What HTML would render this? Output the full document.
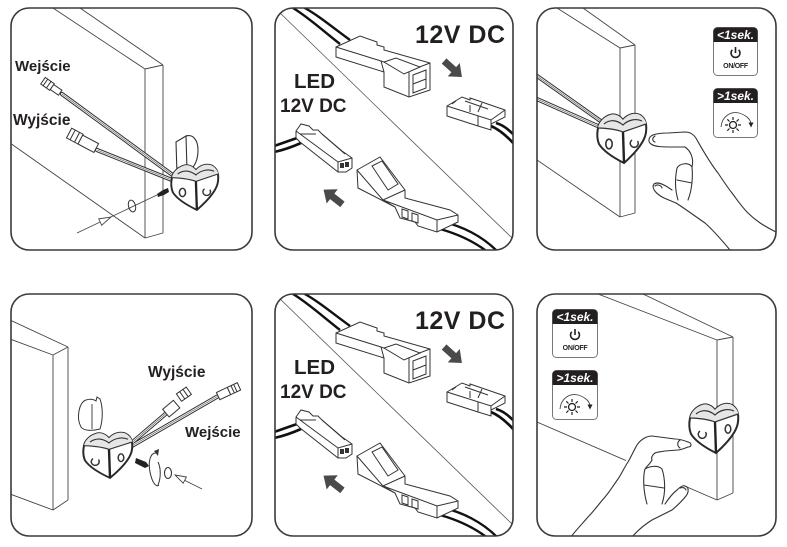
<!DOCTYPE html>
<html><head><meta charset="utf-8">
<style>
html,body{margin:0;padding:0;background:#fff;}
svg{display:block;}
text{font-family:"Liberation Sans",Arial,sans-serif;font-weight:bold;fill:#231f20;}
</style></head><body>
<svg width="787" height="547" viewBox="0 0 787 547" xmlns="http://www.w3.org/2000/svg">
<defs>
<clipPath id="c1"><rect x="11" y="8" width="241" height="242" rx="18"/></clipPath>
<clipPath id="c2"><rect x="275" y="8" width="238" height="242" rx="18"/></clipPath>
<clipPath id="c3"><rect x="537" y="8" width="239" height="242" rx="18"/></clipPath>
<clipPath id="c4"><rect x="11" y="294" width="241" height="242" rx="18"/></clipPath>
<clipPath id="c5"><rect x="275" y="294" width="238" height="242" rx="18"/></clipPath>
<clipPath id="c6"><rect x="537" y="294" width="239" height="242" rx="18"/></clipPath>
</defs>

<!-- ================= PANEL 1 ================= -->
<g clip-path="url(#c1)">
  <path d="M53,8 L145,69 M80,8 L163,65 M145,69 L163,65 M145,69 L145,238 M163,65 L163,233 M145,238 L163,233 M10,143 L145,238" fill="none" stroke="#444" stroke-width="0.9"/>
  <g fill="none" stroke-linecap="round">
    <path d="M62,94 L174,176 M97,150 L172,180" stroke="#333" stroke-width="4.2"/>
    <path d="M62,94 L174,176 M97,150 L172,180" stroke="#fff" stroke-width="2.2"/>
    <path d="M62,94 L174,176 M97,150 L172,180" stroke="#555" stroke-width="0.6"/>
  </g>
  <g transform="translate(52,87) rotate(35)" fill="#fff" stroke="#333" stroke-width="1">
    <rect x="-11" y="-4" width="11" height="8"/>
    <path d="M-8,-4 L-8,4 M-4,-4 L-4,4"/>
    <rect x="0" y="-3" width="10" height="6"/>
  </g>
  <g transform="translate(83,141) rotate(28)" fill="#fff" stroke="#333" stroke-width="1">
    <rect x="-16" y="-6" width="13" height="11"/>
    <path d="M-12,-6 L-12,5 M-7,-6 L-7,5"/>
    <rect x="-3" y="-5" width="18" height="10"/>
  </g>
  <text x="15" y="71" font-size="15">Wejście</text>
  <text x="13" y="125" font-size="15.5">Wyjście</text>
  <path d="M176,142 L186,136 L187,170 L177,174 Z" fill="#fff" stroke="#333" stroke-width="1.1"/>
  <path d="M186,136 C193,134 198,140 198,150 C198,160 195,166 190,170" fill="none" stroke="#333" stroke-width="1.1"/>
  <g transform="translate(170,163) scale(0.96,0.92)">
    <path d="M2,16 C3,10 8,5 14,3 C19,1 24,4 27,8 C31,3 38,0 44,3 C49,6 51,12 50,20 C49,30 38,42 28,51 C20,47 8,40 3,32 C1,27 1,21 2,16 Z" fill="#fff" stroke="#2a2a2a" stroke-width="2"/>
    <path d="M2,16 C3,10 8,5 14,3 C19,1 24,4 27,8 C31,3 38,0 44,3 C49,6 51,12 50,12 L27,20 Z" fill="#e6e6e6" stroke="none"/>
    <path d="M2,16 C8,16 20,17 27,20 L50,12 M8,12 C14,7 21,8 27,13 C32,8 40,6 46,9" fill="none" stroke="#333" stroke-width="1.2"/>
    <path d="M27,20 L28,51" stroke="#222" stroke-width="2.4"/>
    <ellipse cx="13" cy="32" rx="3.2" ry="4.5" fill="none" stroke="#333" stroke-width="1.6"/>
    <path d="M36,28 A4,4 0 1 0 41.5,29" fill="none" stroke="#333" stroke-width="1.5"/>
  </g>
  <path d="M157,194 L163,190 L168,188 L169,192 L164,195 L158,197 Z" fill="#222"/>
  <ellipse cx="132" cy="206" rx="3.5" ry="6" fill="none" stroke="#333" stroke-width="1" transform="rotate(-15 132 206)"/>
  <path d="M77,233 L157,195" stroke="#444" stroke-width="0.8" fill="none"/>
  <polygon points="111,217 101.7,225.3 98.7,218.9" fill="#fff" stroke="#444" stroke-width="0.9"/>
</g>

<!-- ================= PANEL 2 ================= -->
<g clip-path="url(#c2)">
  <path d="M277,10 L512,238" stroke="#555" stroke-width="0.8" fill="none"/>
  <path d="M293,8 C308,17 322,30 340,44 M303,7 C318,15 332,27 350,40" stroke="#111" stroke-width="2.4" fill="none"/>
  <g fill="#fff" stroke="#333" stroke-width="1">
    <path d="M336,47 L360,36 L377,42 L377,45 L384,47 L384,50 L430,63 L430,90 L409,97 L384,87 L384,72 L336,57 Z"/>
    <path d="M336,47 L381,61 L409,71 L430,63 M409,71 L409,97 M381,61 L384,72" fill="none"/>
    <path d="M384,62 L396,58 L420,67 L404,74 Z"/>
    <path d="M413,75 L426,70 L426,88 L413,93 Z M413,84 L426,79" />
  </g>
  <text x="415" y="43" font-size="25" letter-spacing="0.5">12V DC</text>
  <polygon points="-12,-3.5 1,-3.5 1,-9 12,0 1,9 1,3.5 -12,3.5" fill="#4a4a4a" transform="translate(453,69) rotate(42)"/>
  <path d="M491,126 C498,129 505,134 514,144 M496,123 C503,125 508,129 515,136" stroke="#111" stroke-width="2.6" fill="none"/>
  <g fill="#fff" stroke="#333" stroke-width="1">
    <path d="M447,106 L462,97 L470,100 L470,98 L476,100 L505,110 L505,117 L491,124 L491,130 L478,126 L447,116 Z"/>
    <path d="M447,106 L491,120 L505,110 M491,120 L491,130 M478,116 L478,126 M465,101 L488,109 M482,103 L478,112 M452,104 L456,101 M470,105 L470,112" fill="none"/>
  </g>
  <text x="294" y="88" font-size="20.5">LED</text>
  <text x="280" y="112" font-size="19">12V DC</text>
  <path d="M274,146 C283,143 291,140 300,137 M274,152 C284,150 292,147 301,143" stroke="#111" stroke-width="2.6" fill="none"/>
  <g fill="#fff" stroke="#333" stroke-width="1">
    <path d="M296,131 L301,124 L309,126 L313,130 L318,130 L322,134 L342,151 L352,158 L352,168 L346,172 L338,172 L300,142 L296,138 Z"/>
    <path d="M296,131 L338,162 L352,158 M338,162 L338,172 M300,134 L316,134 M322,134 L345,154" fill="none"/>
  </g>
  <rect x="340" y="163" width="4" height="5" fill="#333"/><rect x="345" y="162" width="4" height="5" fill="#333"/>
  <polygon points="-12,-3.5 1,-3.5 1,-9 12,0 1,9 1,3.5 -12,3.5" fill="#4a4a4a" transform="translate(333,197) rotate(218)"/>
  <path d="M443,222 C462,226 482,236 497,251 M440,229 C458,234 475,242 489,253" stroke="#111" stroke-width="2.4" fill="none"/>
  <g fill="#fff" stroke="#333" stroke-width="1">
    <path d="M357,170 L380,157 L405,190 L405,198 L450,210 L458,215 L458,222 L437,232 L418,226 L415,222 L400,218 L395,207 L358,188 Z"/>
    <path d="M357,170 L383,200 L405,190 M383,200 L395,207 M383,200 L437,220 L458,215 M437,220 L437,232" fill="none"/>
    <path d="M372,166 L382,161 L398,184 L388,190 Z"/>
    <path d="M402,209 L408,211 L408,219 L402,217 Z M412,213 L418,215 L418,223 L412,221 Z"/>
  </g>
</g>

<!-- ================= PANEL 3 ================= -->
<g clip-path="url(#c3)">
  <path d="M557,8 L620,48 M583,8 L635,45 M620,48 L635,45 M620,48 L620,217 M635,45 L635,213 M620,217 L635,213 M537,160 L620,217" fill="none" stroke="#444" stroke-width="0.9"/>
  <g fill="none" stroke-linecap="round">
    <path d="M530,71 L602,122 M530,96 L600,127" stroke="#333" stroke-width="4.2"/>
    <path d="M530,71 L602,122 M530,96 L600,127" stroke="#fff" stroke-width="2.2"/>
    <path d="M530,71 L602,122 M530,96 L600,127" stroke="#555" stroke-width="0.6"/>
  </g>
  <g transform="translate(596,112)">
    <path d="M2,16 C3,10 8,5 14,3 C19,1 24,4 27,8 C31,3 38,0 44,3 C49,6 51,12 50,20 C49,30 38,42 28,51 C20,47 8,40 3,32 C1,27 1,21 2,16 Z" fill="#fff" stroke="#2a2a2a" stroke-width="2"/>
    <path d="M2,16 C3,10 8,5 14,3 C19,1 24,4 27,8 C31,3 38,0 44,3 C49,6 51,12 50,12 L27,20 Z" fill="#e6e6e6" stroke="none"/>
    <path d="M2,16 C8,16 20,17 27,20 L50,12 M8,12 C14,7 21,8 27,13 C32,8 40,6 46,9" fill="none" stroke="#333" stroke-width="1.2"/>
    <path d="M27,20 L28,51" stroke="#222" stroke-width="2.4"/>
    <ellipse cx="13" cy="32" rx="3.2" ry="4.8" fill="none" stroke="#333" stroke-width="1.6"/>
    <path d="M36,28 A4,4 0 1 0 41.5,29" fill="none" stroke="#333" stroke-width="1.5"/>
  </g>
  <g fill="none" stroke="#333" stroke-width="1.1" stroke-linecap="round">
    <path d="M653,135 C658,133 663,133 668,133 L685,132 C690,132 694,134 697,140 C701,147 710,163 718,173 C724,182 728,188 732,193 C738,201 742,207 748,213 C755,220 762,225 778,233"/>
    <path d="M653,135 C648,137 648,142 651,144 C655,147 663,147 672,147 L685,147"/>
    <path d="M655,136 C652,138 652,141 655,142"/>
    <path d="M685,147 C691,151 694,159 692,167"/>
    <path d="M677,168 C680,163 689,162 692,167 C693,177 692,190 688,200 M677,168 C675,178 675,190 678,200 M677,180 L692,183"/>
    <path d="M676,203 L664,198 C656,194 651,188 654,184 C658,181 665,185 672,190"/>
    <path d="M655,186 C657,184 661,185 662,188"/>
    <path d="M676,203 C684,208 692,214 705,223 C713,230 720,238 730,250"/>
  </g>
  <g transform="translate(713,27)">
    <rect x="0.5" y="0.5" width="44" height="48" rx="4" fill="#fff" stroke="#777" stroke-width="1"/>
    <path d="M0.5,15 V4.5 A4,4 0 0 1 4.5,0.5 H40.5 A4,4 0 0 1 44.5,4.5 V15 Z" fill="#231f20"/>
    <text x="22.5" y="12" text-anchor="middle" font-size="12" font-style="italic" style="fill:#fff">&lt;1sek.</text>
    <path d="M19.3,22.8 A4.5,4.5 0 1 0 25.7,22.8" fill="none" stroke="#222" stroke-width="1.6"/>
    <path d="M22.5,20 L22.5,26" stroke="#222" stroke-width="1.6"/>
    <text x="22.5" y="41" text-anchor="middle" font-size="7" letter-spacing="-0.3">ON/OFF</text>
  </g>
  <g transform="translate(713,88)">
    <rect x="0.5" y="0.5" width="44" height="49" rx="4" fill="#fff" stroke="#777" stroke-width="1"/>
    <path d="M0.5,15 V4.5 A4,4 0 0 1 4.5,0.5 H40.5 A4,4 0 0 1 44.5,4.5 V15 Z" fill="#231f20"/>
    <text x="22.5" y="12" text-anchor="middle" font-size="12" font-style="italic" style="fill:#fff">&gt;1sek.</text>
    <circle cx="20" cy="37" r="3.5" fill="none" stroke="#222" stroke-width="1.3"/>
    <path d="M25,37 L28,37 M23.5,40.5 L25.7,42.7 M20,42 L20,45 M16.5,40.5 L14.3,42.7 M15,37 L12,37 M16.5,33.5 L14.3,31.3 M20,32 L20,29 M23.5,33.5 L25.7,31.3" stroke="#222" stroke-width="1.2"/>
    <path d="M8,39 C9,28 18,23 26,25 C33,27 37,31 38,35" fill="none" stroke="#444" stroke-width="0.9"/>
    <polygon points="35.5,34.5 40.5,34.5 38,39.5" fill="#222"/>
  </g>
</g>

<!-- ================= PANEL 4 ================= -->
<g clip-path="url(#c4)">
  <path d="M10,320 L68,347 M10,339 L53,355 M53,355 L68,347 M53,355 L53,510 M68,347 L68,500 M53,510 L68,500 M10,494 L53,510" fill="none" stroke="#444" stroke-width="0.9"/>
  <path d="M86,400 C79,402 76,418 81,427 C84,431 92,431 100,429 C103,420 103,407 100,399 L97,397 L96,401 C93,399 89,399 86,400 Z" fill="#fff" stroke="#333" stroke-width="1"/>
  <path d="M92,404 L92,429" stroke="#333" stroke-width="0.9"/>
  <g fill="none" stroke-linecap="round">
    <path d="M128,446 L169,411 M130,447 L220,395" stroke="#333" stroke-width="4.2"/>
    <path d="M128,446 L169,411 M130,447 L220,395" stroke="#fff" stroke-width="2.2"/>
    <path d="M128,446 L169,411 M130,447 L220,395" stroke="#555" stroke-width="0.6"/>
  </g>
  <g fill="#fff" stroke="#333" stroke-width="1">
    <g transform="translate(172,408) rotate(-40)"><rect x="-8" y="-5" width="14" height="10"/></g>
    <g transform="translate(185,394) rotate(-35)"><rect x="-7" y="-5" width="12" height="9"/><path d="M-3,-5 L-3,4 M1,-5 L1,4" fill="none"/></g>
    <g transform="translate(229,391) rotate(-25)"><rect x="-12" y="-4" width="12" height="8"/><rect x="0" y="-4" width="11" height="8"/><path d="M4,-4 L4,4 M7,-4 L7,4" fill="none"/></g>
  </g>
  <text x="148" y="377" font-size="15.5">Wyjście</text>
  <text x="185" y="437" font-size="15">Wejście</text>
  <g transform="translate(82,431) scale(1,0.92)">
    <path d="M2,16 C3,10 8,5 14,3 C19,1 24,4 27,8 C31,3 38,0 44,3 C49,6 51,12 50,20 C49,30 38,42 28,51 C20,47 8,40 3,32 C1,27 1,21 2,16 Z" fill="#fff" stroke="#2a2a2a" stroke-width="2"/>
    <path d="M2,16 C3,10 8,5 14,3 C19,1 24,4 27,8 C31,3 38,0 44,3 C49,6 51,12 50,12 L27,20 Z" fill="#e6e6e6" stroke="none"/>
    <path d="M2,16 C8,16 20,17 27,20 L50,12 M8,12 C14,7 21,8 27,13 C32,8 40,6 46,9" fill="none" stroke="#333" stroke-width="1.2"/>
    <path d="M27,20 L28,51" stroke="#222" stroke-width="2.4"/>
    <path d="M11,30 A4,4 0 1 0 16.5,31" fill="none" stroke="#333" stroke-width="1.5"/>
    <ellipse cx="39" cy="29" rx="2.8" ry="4.2" fill="none" stroke="#333" stroke-width="1.5"/>
  </g>
  <path d="M136,458 L146,462 L149,466 L145,468 L135,463 Z" fill="#222"/>
  <path d="M157,453 C150,452 148,462 150,472 C152,482 156,488 159,485 M158,462 C161,468 161,478 158,485" fill="none" stroke="#333" stroke-width="1"/>
  <polygon points="154,451 159,449 158,456" fill="#333"/>
  <ellipse cx="168" cy="473" rx="3.5" ry="5.5" fill="none" stroke="#333" stroke-width="1.1"/>
  <path d="M202,489 L182,479" stroke="#444" stroke-width="0.8" fill="none"/>
  <polygon points="175,475 186.4,477 183.2,483.2" fill="#fff" stroke="#444" stroke-width="0.9"/>
</g>

<!-- ================= PANEL 5 ================= -->
<g clip-path="url(#c5)">
<g transform="translate(0,286)">
  <path d="M277,10 L512,238" stroke="#555" stroke-width="0.8" fill="none"/>
  <path d="M293,8 C308,17 322,30 340,44 M303,7 C318,15 332,27 350,40" stroke="#111" stroke-width="2.4" fill="none"/>
  <g fill="#fff" stroke="#333" stroke-width="1">
    <path d="M336,47 L360,36 L377,42 L377,45 L384,47 L384,50 L430,63 L430,90 L409,97 L384,87 L384,72 L336,57 Z"/>
    <path d="M336,47 L381,61 L409,71 L430,63 M409,71 L409,97 M381,61 L384,72" fill="none"/>
    <path d="M384,62 L396,58 L420,67 L404,74 Z"/>
    <path d="M413,75 L426,70 L426,88 L413,93 Z M413,84 L426,79" />
  </g>
  <text x="415" y="43" font-size="25" letter-spacing="0.5">12V DC</text>
  <polygon points="-12,-3.5 1,-3.5 1,-9 12,0 1,9 1,3.5 -12,3.5" fill="#4a4a4a" transform="translate(453,69) rotate(42)"/>
  <path d="M491,126 C498,129 505,134 514,144 M496,123 C503,125 508,129 515,136" stroke="#111" stroke-width="2.6" fill="none"/>
  <g fill="#fff" stroke="#333" stroke-width="1">
    <path d="M447,106 L462,97 L470,100 L470,98 L476,100 L505,110 L505,117 L491,124 L491,130 L478,126 L447,116 Z"/>
    <path d="M447,106 L491,120 L505,110 M491,120 L491,130 M478,116 L478,126 M465,101 L488,109 M482,103 L478,112 M452,104 L456,101 M470,105 L470,112" fill="none"/>
  </g>
  <text x="294" y="88" font-size="20.5">LED</text>
  <text x="280" y="112" font-size="19">12V DC</text>
  <path d="M274,146 C283,143 291,140 300,137 M274,152 C284,150 292,147 301,143" stroke="#111" stroke-width="2.6" fill="none"/>
  <g fill="#fff" stroke="#333" stroke-width="1">
    <path d="M296,131 L301,124 L309,126 L313,130 L318,130 L322,134 L342,151 L352,158 L352,168 L346,172 L338,172 L300,142 L296,138 Z"/>
    <path d="M296,131 L338,162 L352,158 M338,162 L338,172 M300,134 L316,134 M322,134 L345,154" fill="none"/>
  </g>
  <rect x="340" y="163" width="4" height="5" fill="#333"/><rect x="345" y="162" width="4" height="5" fill="#333"/>
  <polygon points="-12,-3.5 1,-3.5 1,-9 12,0 1,9 1,3.5 -12,3.5" fill="#4a4a4a" transform="translate(333,197) rotate(218)"/>
  <path d="M443,222 C462,226 482,236 497,251 M440,229 C458,234 475,242 489,253" stroke="#111" stroke-width="2.4" fill="none"/>
  <g fill="#fff" stroke="#333" stroke-width="1">
    <path d="M357,170 L380,157 L405,190 L405,198 L450,210 L458,215 L458,222 L437,232 L418,226 L415,222 L400,218 L395,207 L358,188 Z"/>
    <path d="M357,170 L383,200 L405,190 M383,200 L395,207 M383,200 L437,220 L458,215 M437,220 L437,232" fill="none"/>
    <path d="M372,166 L382,161 L398,184 L388,190 Z"/>
    <path d="M402,209 L408,211 L408,219 L402,217 Z M412,213 L418,215 L418,223 L412,221 Z"/>
  </g>
</g>
</g>

<!-- ================= PANEL 6 ================= -->
<g clip-path="url(#c6)">
  <path d="M598,294 L717,340 M643,294 L733,337 M717,340 L733,337 M717,340 L717,500 M733,337 L733,493 M717,500 L733,493 M537,422 L717,500" fill="none" stroke="#444" stroke-width="0.9"/>
  <g transform="translate(688,402)">
    <path d="M2,16 C3,10 8,5 14,3 C19,1 24,4 27,8 C31,3 38,0 44,3 C49,6 51,12 50,20 C49,30 38,42 28,51 C20,47 8,40 3,32 C1,27 1,21 2,16 Z" fill="#fff" stroke="#2a2a2a" stroke-width="2"/>
    <path d="M2,16 C3,10 8,5 14,3 C19,1 24,4 27,8 C31,3 38,0 44,3 C49,6 51,12 50,12 L27,20 Z" fill="#e6e6e6" stroke="none"/>
    <path d="M2,16 C8,16 20,17 27,20 L50,12 M8,12 C14,7 21,8 27,13 C32,8 40,6 46,9" fill="none" stroke="#333" stroke-width="1.2"/>
    <path d="M27,20 L28,51" stroke="#222" stroke-width="2.4"/>
    <path d="M12,29 A4,4 0 1 0 17.5,30" fill="none" stroke="#333" stroke-width="1.5"/>
    <ellipse cx="40" cy="27" rx="2.8" ry="4.2" fill="none" stroke="#333" stroke-width="1.5"/>
  </g>
  <polygon points="688,442 652,436 637,445 572,537 632,537 672,510 688,489 665,470 652,460 688,447" fill="#fff"/>
  <g fill="none" stroke="#333" stroke-width="1.1" stroke-linecap="round">
    <path d="M688,442 C683,440 678,439 675,439 L652,436 C647,436 641,439 637,445 C633,452 631,457 628,462 C624,468 622,473 618,479 C613,486 610,491 605,497 C598,505 594,511 588,517 C582,524 577,529 570,538"/>
    <path d="M688,442 C692,443 692,447 688,447 C683,449 680,450 678,450 L665,451 C660,452 657,452 655,453 C652,455 651,458 652,460"/>
    <path d="M680,440 C677,442 677,446 680,448"/>
    <path d="M652,460 C650,464 647,466 645,469 C643,476 643,490 647,504 M662,469 C665,478 666,492 662,504 M645,469 C650,466 658,465 662,469 M644,485 L664,488"/>
    <path d="M665,504 C669,498 673,493 677,490 C680,487 683,485 685,486 C689,487 689,492 686,496 C682,501 678,505 672,510"/>
    <path d="M680,488 C683,487 685,488 686,490"/>
    <path d="M672,510 C664,514 658,517 652,520 C644,525 638,530 632,537"/>
  </g>
  <g transform="translate(552,309)">
    <rect x="0.5" y="0.5" width="45" height="48" rx="4" fill="#fff" stroke="#777" stroke-width="1"/>
    <path d="M0.5,15 V4.5 A4,4 0 0 1 4.5,0.5 H41.5 A4,4 0 0 1 45.5,4.5 V15 Z" fill="#231f20"/>
    <text x="23" y="12" text-anchor="middle" font-size="12" font-style="italic" style="fill:#fff">&lt;1sek.</text>
    <path d="M19.8,22.8 A4.5,4.5 0 1 0 26.2,22.8" fill="none" stroke="#222" stroke-width="1.6"/>
    <path d="M23,20 L23,26" stroke="#222" stroke-width="1.6"/>
    <text x="23" y="41" text-anchor="middle" font-size="7" letter-spacing="-0.3">ON/OFF</text>
  </g>
  <g transform="translate(552,370)">
    <rect x="0.5" y="0.5" width="45" height="49" rx="4" fill="#fff" stroke="#777" stroke-width="1"/>
    <path d="M0.5,15 V4.5 A4,4 0 0 1 4.5,0.5 H41.5 A4,4 0 0 1 45.5,4.5 V15 Z" fill="#231f20"/>
    <text x="23" y="12" text-anchor="middle" font-size="12" font-style="italic" style="fill:#fff">&gt;1sek.</text>
    <circle cx="20" cy="37" r="3.5" fill="none" stroke="#222" stroke-width="1.3"/>
    <path d="M25,37 L28,37 M23.5,40.5 L25.7,42.7 M20,42 L20,45 M16.5,40.5 L14.3,42.7 M15,37 L12,37 M16.5,33.5 L14.3,31.3 M20,32 L20,29 M23.5,33.5 L25.7,31.3" stroke="#222" stroke-width="1.2"/>
    <path d="M8,39 C9,28 18,23 26,25 C33,27 37,31 38,35" fill="none" stroke="#444" stroke-width="0.9"/>
    <polygon points="35.5,34.5 40.5,34.5 38,39.5" fill="#222"/>
  </g>
</g>

<g fill="none" stroke="#3a3a3a" stroke-width="1.6">
  <rect x="11" y="8" width="241" height="242" rx="18"/>
  <rect x="275" y="8" width="238" height="242" rx="18"/>
  <rect x="537" y="8" width="239" height="242" rx="18"/>
  <rect x="11" y="294" width="241" height="242" rx="18"/>
  <rect x="275" y="294" width="238" height="242" rx="18"/>
  <rect x="537" y="294" width="239" height="242" rx="18"/>
</g>
</svg>
</body></html>
